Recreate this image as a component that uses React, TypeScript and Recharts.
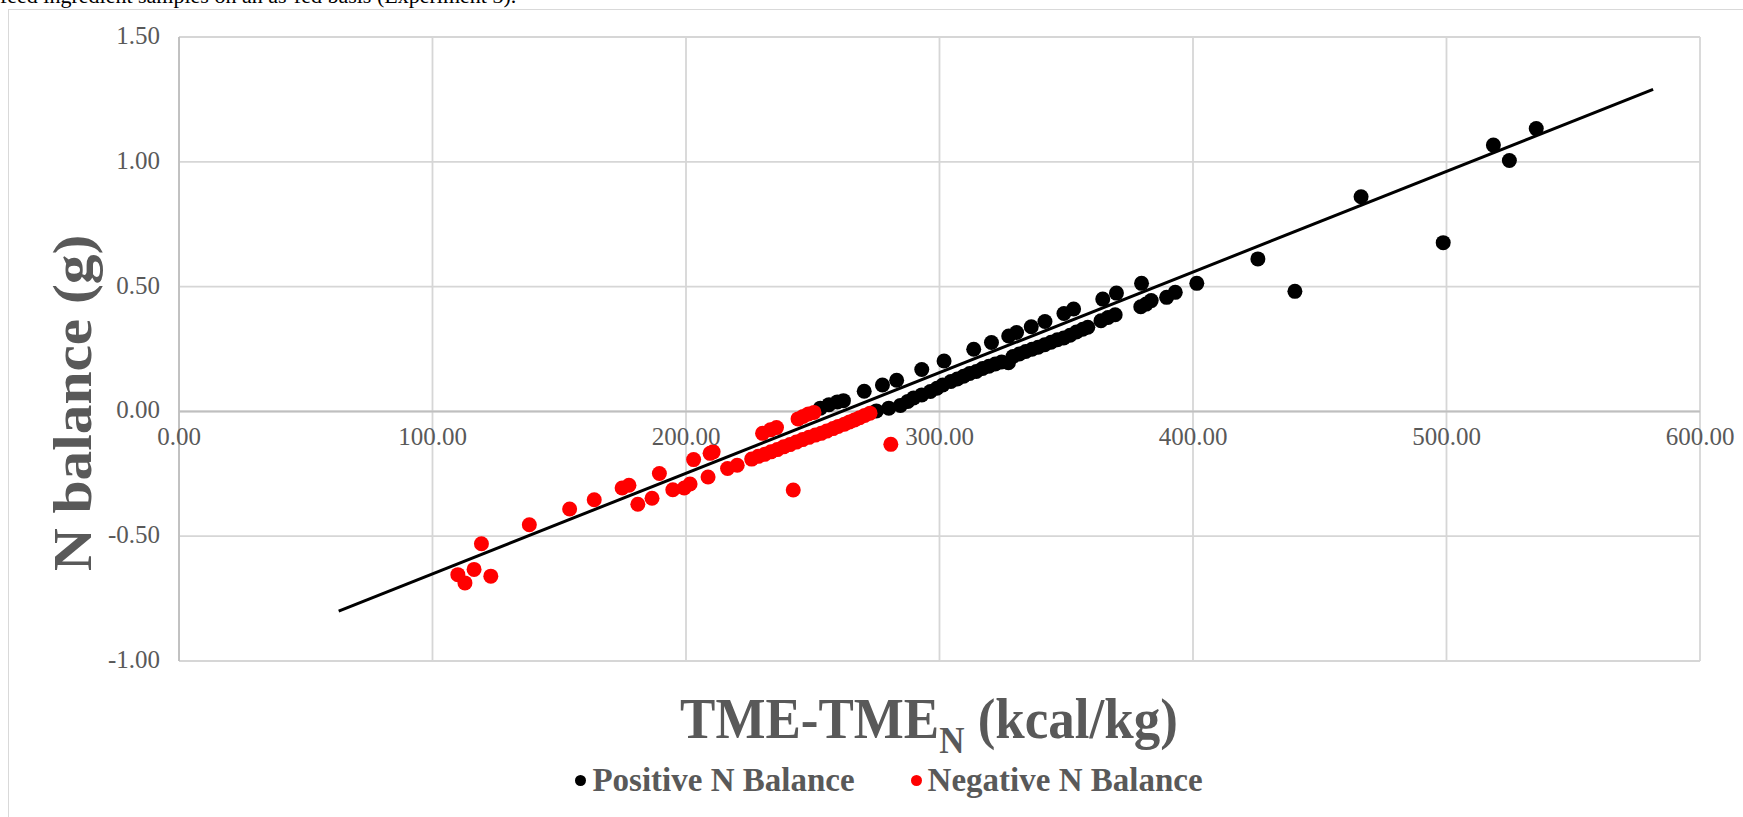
import React from "react";
import {
  ScatterChart,
  Scatter,
  XAxis,
  YAxis,
  CartesianGrid,
  ReferenceLine,
  Legend,
} from "recharts";

// TME - TMEn (kcal/kg) vs N balance (g)
const positiveX = [
  253.0, 256.4, 259.7, 262.1, 270.3, 277.5, 283.1, 293.0, 301.8, 313.5, 320.5,
  327.3, 330.4, 336.2, 341.6, 349.1, 352.9, 364.4, 369.8, 379.7, 401.5, 425.6,
  440.2, 466.3, 498.7, 518.5, 524.8, 535.4,
  275.1, 280.0, 284.6, 287.5, 289.8, 293.0, 296.4, 299.0, 301.3, 304.5, 307.0,
  309.5, 311.9, 314.5, 317.0, 319.5, 322.0, 324.5, 327.2, 329.0, 331.5, 334.0,
  336.5, 338.9, 341.5, 344.0, 346.5, 349.0, 351.5, 354.0, 356.5, 358.5, 363.7,
  366.5, 369.3, 379.4, 381.5, 383.5, 389.6, 393.0,
];
const positiveY = [
  0.013, 0.027, 0.038, 0.043, 0.081, 0.106, 0.125, 0.168, 0.202, 0.249, 0.276,
  0.302, 0.316, 0.339, 0.36, 0.392, 0.41, 0.45, 0.474, 0.513, 0.513, 0.611,
  0.481, 0.86, 0.676, 1.067, 1.005, 1.133,
  0.002, 0.013, 0.024, 0.04, 0.054, 0.066, 0.08, 0.093, 0.106, 0.12, 0.13,
  0.141, 0.152, 0.16, 0.172, 0.181, 0.19, 0.198, 0.195, 0.22, 0.23, 0.24,
  0.249, 0.257, 0.267, 0.277, 0.287, 0.294, 0.305, 0.318, 0.329, 0.337, 0.363,
  0.376, 0.387, 0.419, 0.43, 0.444, 0.457, 0.477,
];

const negativeX = [
  110.0, 112.8, 116.4, 119.3, 123.0, 138.2, 154.1, 163.8, 174.8, 177.5, 181.0,
  186.6, 189.5, 194.8, 199.3, 201.6, 203.0, 208.7, 209.5, 210.7, 216.4, 220.2,
  225.9, 228.5, 230.2, 231.0, 233.3, 233.5, 235.7, 236.0, 238.5, 241.0, 242.3,
  243.5, 244.2, 246.2, 246.0, 248.3, 248.5, 250.5, 251.0, 253.3, 255.5, 258.0,
  260.0, 262.5, 264.5, 266.5, 268.5, 270.5, 272.6, 280.8,
];
const negativeY = [
  -0.654, -0.687, -0.633, -0.53, -0.66, -0.454, -0.391, -0.354, -0.307, -0.296,
  -0.372, -0.348, -0.249, -0.314, -0.307, -0.291, -0.193, -0.263, -0.168,
  -0.162, -0.229, -0.216, -0.191, -0.18, -0.088, -0.172, -0.074, -0.162,
  -0.065, -0.153, -0.142, -0.133, -0.315, -0.123, -0.03, -0.02, -0.113, -0.01,
  -0.104, -0.004, -0.095, -0.088, -0.079, -0.069, -0.06, -0.051, -0.042,
  -0.034, -0.025, -0.016, -0.007, -0.132,
];

// linear trendline end points
const trendX = [63.0, 581.5];
const trendY = [-0.8, 1.29];

const xTicks = [0, 100, 200, 300, 400, 500, 600];
const yTicks = [-1, -0.5, 0, 0.5, 1, 1.5];

const seriesNames = ["Positive N Balance", "Negative N Balance"];
const seriesColors = ["#000000", "#ff0000"];

const toPoints = (xs: number[], ys: number[]) =>
  xs.map((x, i) => ({ x, y: ys[i] }));

const positiveData = toPoints(positiveX, positiveY);
const negativeData = toPoints(negativeX, negativeY);
const trendData = toPoints(trendX, trendY);

const WIDTH = 1743;
const HEIGHT = 817;
const PLOT_TOP = 37;
const PLOT_BOTTOM = 661;
const X_AXIS_H = 20;
const Y_MIN = -1;
const Y_MAX = 1.5;
// pixel row of the y = 0 line (horizontal axis crosses there)
const ZERO_Y = PLOT_TOP + ((PLOT_BOTTOM - PLOT_TOP) * Y_MAX) / (Y_MAX - Y_MIN);

const FONT = '"Liberation Serif", "Times New Roman", serif';
const GRAY = "#595959";

const YTick = ({ x, y, payload }: any) => (
  <text
    x={x}
    y={y}
    dy={7}
    textAnchor="end"
    fontFamily={FONT}
    fontSize={25}
    fill={GRAY}
  >
    {Number(payload.value).toFixed(2)}
  </text>
);

// x labels sit under the y = 0 line, not at the bottom of the plot
const XTick = ({ x, payload }: any) => (
  <text
    x={x}
    y={ZERO_Y + 34}
    textAnchor="middle"
    fontFamily={FONT}
    fontSize={25}
    fill={GRAY}
  >
    {Number(payload.value).toFixed(2)}
  </text>
);

const makeDot = (color: string) => (props: any) =>
  <circle cx={props.cx} cy={props.cy} r={7.5} fill={color} />;

const renderLegend = () => (
  <div
    style={{
      display: "flex",
      justifyContent: "center",
      alignItems: "center",
      gap: 56,
      fontFamily: FONT,
      fontWeight: "bold",
      fontSize: 33,
      lineHeight: 1,
      color: GRAY,
    }}
  >
    {seriesNames.map((name, i) => (
      <div key={name} style={{ display: "flex", alignItems: "center" }}>
        <span
          style={{
            display: "inline-block",
            width: 11,
            height: 11,
            borderRadius: "50%",
            background: seriesColors[i],
            marginRight: 6,
          }}
        />
        <span>{name}</span>
      </div>
    ))}
  </div>
);

export default function App() {
  return (
    <div
      style={{
        position: "fixed",
        left: 0,
        top: 0,
        width: WIDTH,
        height: HEIGHT,
        overflow: "hidden",
        background: "#fff",
      }}
    >
      {/* caption line of the page above, cut off */}
      <div
        style={{
          position: "absolute",
          left: 0,
          top: -17,
          fontFamily: FONT,
          fontSize: 22,
          whiteSpace: "nowrap",
          color: "#000",
        }}
      >
        feed ingredient samples on an as-fed basis (Experiment 3).
      </div>
      {/* chart area frame */}
      <div
        style={{
          position: "absolute",
          left: 8,
          top: 9,
          width: 2000,
          height: 2000,
          border: "1px solid #d9d9d9",
        }}
      />
      <div style={{ position: "absolute", left: 0, top: 0 }}>
        <ScatterChart
          width={WIDTH}
          height={HEIGHT}
          margin={{
            top: PLOT_TOP,
            right: 43,
            bottom: HEIGHT - PLOT_BOTTOM - X_AXIS_H,
            left: 0,
          }}
        >
          <CartesianGrid stroke="#d6d6d6" strokeWidth={1.8} />
          <XAxis
            type="number"
            dataKey="x"
            domain={[0, 600]}
            ticks={xTicks}
            height={X_AXIS_H}
            axisLine={false}
            tickLine={false}
            tick={(p: any) => <XTick {...p} />}
            interval={0}
          />
          <YAxis
            type="number"
            dataKey="y"
            domain={[Y_MIN, Y_MAX]}
            ticks={yTicks}
            width={179}
            axisLine={{ stroke: "#bfbfbf", strokeWidth: 1.8 }}
            tickLine={false}
            tickSize={0}
            tickMargin={19}
            tick={<YTick />}
            interval={0}
          />
          <ReferenceLine y={0} stroke="#bfbfbf" strokeWidth={2} />
          <Scatter
            name={seriesNames[0]}
            data={positiveData}
            fill={seriesColors[0]}
            shape={makeDot(seriesColors[0])}
            isAnimationActive={false}
          />
          <Scatter
            name={seriesNames[1]}
            data={negativeData}
            fill={seriesColors[1]}
            shape={makeDot(seriesColors[1])}
            isAnimationActive={false}
          />
          <Scatter
            data={trendData}
            line={{ stroke: "#000", strokeWidth: 3 }}
            shape={() => <g />}
            legendType="none"
            isAnimationActive={false}
          />
          <Legend
            verticalAlign="middle"
            content={renderLegend}
            wrapperStyle={{ position: "absolute", left: 0, top: 764, width: 1778 }}
          />
        </ScatterChart>
      </div>
      <svg
        width={WIDTH}
        height={HEIGHT}
        style={{ position: "absolute", left: 0, top: 0, pointerEvents: "none" }}
      >
        <text
          transform="translate(91,403) rotate(-90) scale(1.08,1)"
          textAnchor="middle"
          fontFamily={FONT}
          fontWeight="bold"
          fontSize={55}
          fill={GRAY}
        >
          N balance (g)
        </text>
        <text
          transform="translate(929,738) scale(1,1.08)"
          textAnchor="middle"
          fontFamily={FONT}
          fontWeight="bold"
          fontSize={53}
          fill={GRAY}
        >
          TME-TME
          <tspan fontSize={35} dy={14}>
            N
          </tspan>
          <tspan dy={-14}> (kcal/kg)</tspan>
        </text>
      </svg>
    </div>
  );
}
